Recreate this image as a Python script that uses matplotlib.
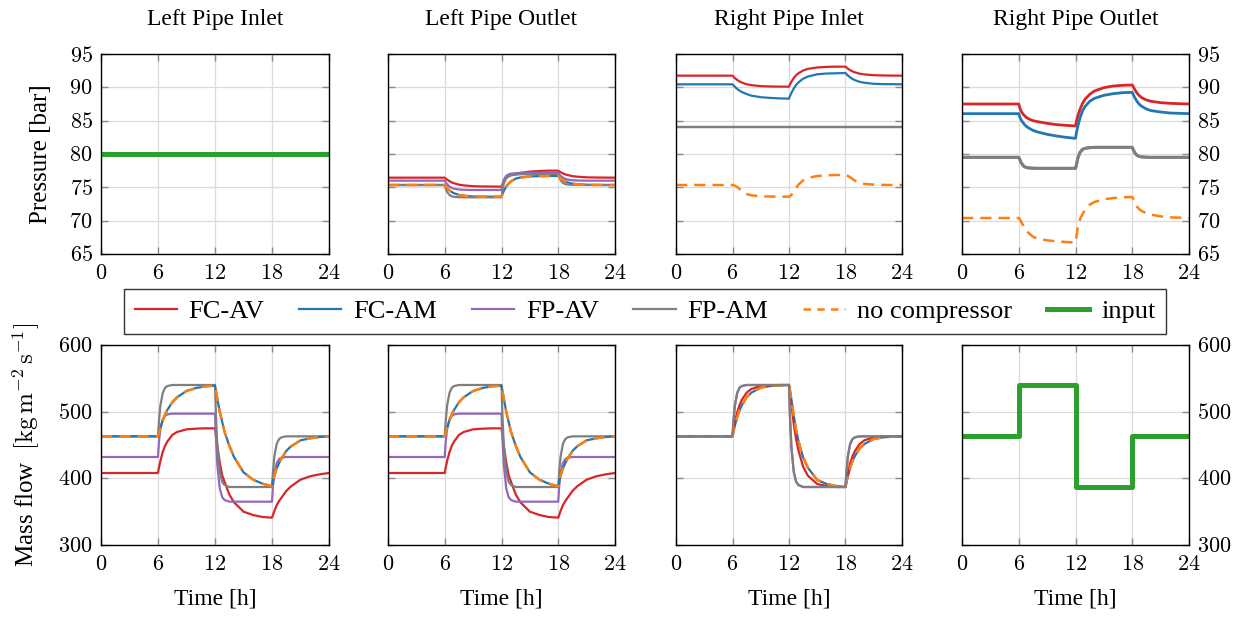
import matplotlib
matplotlib.use("Agg")
import matplotlib.pyplot as plt
from matplotlib.ticker import FuncFormatter
from matplotlib.lines import Line2D

plt.rcParams['font.family'] = ['Liberation Serif', 'DejaVu Serif']
plt.rcParams['mathtext.fontset'] = 'cm'

# ---------------- data ----------------
titles = ["Left Pipe Inlet", "Left Pipe Outlet", "Right Pipe Inlet", "Right Pipe Outlet"]
series_names = ["FC-AV", "FC-AM", "FP-AV", "FP-AM", "no compressor", "input"]
xticks = [0, 6, 12, 18, 24]
p_ticks = [65, 70, 75, 80, 85, 90, 95]
m_ticks = [300, 400, 500, 600]

# common time grid [h]
t = [0, 6, 6.1, 6.25, 6.5, 6.75, 7, 7.5, 8, 9, 10, 11,
     12, 12.1, 12.25, 12.5, 12.75, 13, 13.5, 14, 15, 16, 17,
     18, 18.1, 18.25, 18.5, 18.75, 19, 19.5, 20, 21, 22, 23, 24]

# input (boundary conditions)
t_flat = [0, 24]
p_input = [80, 80]
t_step = [0, 6, 6, 12, 12, 18, 18, 24]
m_input = [463, 463, 540, 540, 387, 387, 463, 463]

# ---- mass flow, left pipe inlet / outlet (identical in the picture) ----
m_left_fcav = [408, 408, 416, 426, 439.5, 449, 455.5, 465, 469.5, 473.5, 474.5, 475,
               475, 464, 448, 424, 405, 395, 376, 364, 350, 345, 342,
               341, 345, 351, 360, 366, 371, 381, 388, 398, 403, 406, 408]
m_left_fcam = [463, 463, 468, 476, 487, 496, 503, 514, 521.5, 531, 535.5, 538,
               539, 531, 519, 500, 485, 470, 449, 432, 409, 398, 392,
               388, 395.5, 404.5, 415, 423, 430, 441, 448, 457, 460, 462, 463]
m_left_fpav = [432, 432, 455, 474, 488.5, 494, 496, 497, 497, 497, 497, 497,
               497, 460, 420, 385, 372, 367.5, 365, 365, 365, 365, 365,
               365, 388, 408, 423, 429, 431, 432, 432, 432, 432, 432, 432]
m_left_fpam = [463, 463, 486, 509, 528, 536, 538.5, 540, 540, 540, 540, 540,
               540, 494, 448, 410, 395, 390, 387, 387, 387, 387, 387,
               387, 410, 433, 452, 459, 461.5, 463, 463, 463, 463, 463, 463]
m_left_nocomp = [463, 463, 468, 476, 487, 496, 503, 514, 521.5, 531, 535.5, 538,
                 539, 531, 519, 500, 485, 470, 449, 432, 409, 398, 392,
                 388, 395.5, 404.5, 415, 423, 430, 441, 448, 457, 460, 462, 463]

# ---- mass flow, right pipe inlet ----
m_rin_fcav = [463, 463, 472, 484, 499, 510, 518, 528.5, 534, 538.5, 539.5, 540,
              540, 529, 512.5, 482, 459, 442, 417.5, 404, 391.5, 388.5, 387,
              387, 396, 407.5, 423, 433.5, 441, 451.5, 457, 461.5, 462.5, 463, 463]
m_rin_fcam = [463, 463, 470, 479, 492, 502, 510, 521.5, 528.5, 536, 538.5, 539.5,
              540, 532, 518.5, 494, 473, 456, 431.5, 416, 397.5, 391.5, 388.5,
              387, 394, 403, 416, 426, 433.5, 445, 451.5, 459, 461.5, 462.5, 463]
m_rin_fpav = [463, 463, 486, 509, 528, 536, 538.5, 540, 540, 540, 540, 540,
              540, 494, 448, 410, 395, 390, 387, 387, 387, 387, 387,
              387, 410, 433, 452, 459, 461.5, 463, 463, 463, 463, 463, 463]
m_rin_fpam = [463, 463, 486, 509, 528, 536, 538.5, 540, 540, 540, 540, 540,
              540, 494, 448, 410, 395, 390, 387, 387, 387, 387, 387,
              387, 410, 433, 452, 459, 461.5, 463, 463, 463, 463, 463, 463]
m_rin_nocomp = [463, 463, 470, 479, 492, 502, 510, 521.5, 528.5, 536, 538.5, 539.5,
                540, 532, 518.5, 494, 473, 456, 431.5, 416, 397.5, 391.5, 388.5,
                387, 394, 403, 416, 426, 433.5, 445, 451.5, 459, 461.5, 462.5, 463]

# ---- pressure, left pipe outlet ----
p_lout_fcav = [76.45, 76.45, 76.31, 76.15, 75.92, 75.73, 75.6, 75.4, 75.29, 75.17, 75.13, 75.12,
               75.1, 75.46, 75.94, 76.42, 76.66, 76.83, 77.02, 77.16, 77.36, 77.45, 77.5,
               77.5, 77.4, 77.27, 77.09, 76.94, 76.84, 76.68, 76.6, 76.5, 76.47, 76.46, 76.45]
p_lout_fcam = [75.35, 75.35, 75.14, 74.88, 74.53, 74.28, 74.11, 73.86, 73.74, 73.63, 73.6, 73.6,
               73.6, 73.97, 74.47, 75.12, 75.55, 75.89, 76.3, 76.48, 76.64, 76.68, 76.7,
               76.7, 76.54, 76.34, 76.07, 75.88, 75.74, 75.55, 75.46, 75.38, 75.36, 75.35, 75.35]
p_lout_fpav = [76.0, 76.0, 75.75, 75.45, 75.12, 74.91, 74.8, 74.67, 74.63, 74.6, 74.6, 74.6,
               74.6, 75.38, 76.16, 76.73, 76.94, 77.04, 77.12, 77.17, 77.2, 77.2, 77.2,
               77.2, 76.98, 76.73, 76.44, 76.26, 76.17, 76.06, 76.02, 76.0, 76.0, 76.0, 76.0]
p_lout_fpam = [75.35, 75.35, 74.83, 74.3, 73.85, 73.65, 73.57, 73.52, 73.5, 73.5, 73.5, 73.5,
               73.5, 74.55, 75.6, 76.37, 76.65, 76.79, 76.9, 76.97, 77.0, 77.0, 77.0,
               77.0, 76.54, 76.06, 75.66, 75.48, 75.42, 75.37, 75.35, 75.35, 75.35, 75.35, 75.35]
p_lout_nocomp = [75.35, 75.35, 75.14, 74.88, 74.53, 74.28, 74.11, 73.86, 73.74, 73.63, 73.6, 73.6,
                 73.6, 73.97, 74.47, 75.12, 75.55, 75.89, 76.3, 76.48, 76.64, 76.68, 76.7,
                 76.7, 76.54, 76.34, 76.07, 75.88, 75.74, 75.55, 75.46, 75.38, 75.36, 75.35, 75.35]

# ---- pressure, right pipe inlet ----
p_rin_fcav = [91.75, 91.75, 91.59, 91.39, 91.11, 90.88, 90.71, 90.46, 90.33, 90.18, 90.13, 90.11,
              90.1, 90.43, 90.82, 91.39, 91.81, 92.11, 92.53, 92.77, 92.98, 93.07, 93.1,
              93.1, 92.97, 92.8, 92.57, 92.38, 92.25, 92.05, 91.94, 91.82, 91.78, 91.76, 91.75]
p_rin_fcam = [90.45, 90.45, 90.3, 90.08, 89.76, 89.5, 89.29, 88.99, 88.75, 88.52, 88.41, 88.34,
              88.3, 88.69, 89.15, 89.8, 90.34, 90.73, 91.3, 91.61, 91.96, 92.07, 92.11,
              92.15, 91.98, 91.78, 91.49, 91.25, 91.08, 90.82, 90.69, 90.53, 90.48, 90.47, 90.45]
p_rin_fpav = [84.0, 84.0]
p_rin_fpam = [84.0, 84.0]
p_rin_nocomp = [75.35, 75.35, 75.33, 75.25, 75.05, 74.75, 74.45, 74.0, 73.8, 73.65, 73.62, 73.6,
                73.6, 73.65, 73.85, 74.35, 74.9, 75.4, 76.05, 76.4, 76.7, 76.8, 76.85,
                76.85, 76.82, 76.72, 76.5, 76.25, 76.0, 75.7, 75.52, 75.4, 75.36, 75.35, 75.35]

# ---- pressure, right pipe outlet ----
p_rout_fcav = [87.5, 87.5, 87.0, 86.4, 85.9, 85.55, 85.3, 85.0, 84.85, 84.6, 84.4, 84.3,
               84.2, 84.9, 85.75, 86.8, 87.6, 88.2, 88.95, 89.45, 89.95, 90.2, 90.3,
               90.35, 90.1, 89.7, 89.15, 88.75, 88.45, 88.1, 87.9, 87.7, 87.6, 87.55, 87.5]
p_rout_fcam = [86.05, 86.05, 85.6, 85.1, 84.6, 84.2, 83.95, 83.55, 83.3, 82.95, 82.7, 82.5,
               82.35, 83.2, 84.2, 85.5, 86.5, 87.1, 87.9, 88.35, 88.8, 89.05, 89.2,
               89.25, 88.95, 88.5, 87.9, 87.45, 87.15, 86.75, 86.5, 86.3, 86.15, 86.1, 86.05]
p_rout_fpav = [79.5, 79.5, 79.2, 78.7, 78.2, 78.0, 77.92, 77.87, 77.85, 77.85, 77.85, 77.85,
               77.85, 78.4, 79.4, 80.3, 80.7, 80.85, 80.95, 81.0, 81.0, 81.0, 81.0,
               81.0, 80.7, 80.2, 79.8, 79.62, 79.56, 79.52, 79.5, 79.5, 79.5, 79.5, 79.5]
p_rout_fpam = [79.5, 79.5, 79.2, 78.7, 78.2, 78.0, 77.92, 77.87, 77.85, 77.85, 77.85, 77.85,
               77.85, 78.4, 79.4, 80.3, 80.7, 80.85, 80.95, 81.0, 81.0, 81.0, 81.0,
               81.0, 80.7, 80.2, 79.8, 79.62, 79.56, 79.52, 79.5, 79.5, 79.5, 79.5, 79.5]
p_rout_nocomp = [70.4, 70.4, 70.25, 69.85, 69.2, 68.6, 68.2, 67.6, 67.3, 67.05, 66.9, 66.8,
                 66.7, 67.6, 69.1, 70.3, 71.0, 71.6, 72.4, 72.8, 73.2, 73.4, 73.5,
                 73.55, 73.3, 72.8, 72.1, 71.7, 71.45, 71.1, 70.9, 70.65, 70.5, 70.45, 70.4]

# ---------------- style ----------------
C_RED, C_BLUE, C_PURPLE, C_GRAY = '#d62728', '#1f77b4', '#9467bd', '#7f7f7f'
C_ORANGE, C_GREEN = '#ff7f0e', '#2ca02c'
LW = 1.6

W, H = 1253, 617
fig = plt.figure(figsize=(W / 100, H / 100), dpi=100)

cols_px = [(101, 329), (388, 615), (676, 902), (962, 1189)]
rows_px = [(54, 254), (345, 545)]
axes = []
for r, (yt, yb) in enumerate(rows_px):
    row = []
    for c, (xl, xr) in enumerate(cols_px):
        ax = fig.add_axes([xl / W, 1 - yb / H, (xr - xl) / W, (yb - yt) / H])
        row.append(ax)
    axes.append(row)

fmt = FuncFormatter(lambda v, p: f"${v:g}$")


def style(ax, yticks, ylim, col):
    ax.set_xlim(0, 24)
    ax.set_ylim(*ylim)
    ax.set_xticks(xticks)
    ax.set_yticks(yticks)
    ax.xaxis.set_major_formatter(fmt)
    ax.yaxis.set_major_formatter(fmt)
    ax.grid(True, color='#dcdcdc', lw=0.9)
    ax.set_axisbelow(True)
    ax.tick_params(direction='in', length=5, width=1.0, color='#8a8a8a',
                   top=True, right=True, labelsize=16, pad=6)
    ax.tick_params(axis='x', pad=8)
    ax.tick_params(axis='y', labelleft=(col == 0), labelright=(col == 3))
    for s in ax.spines.values():
        s.set_linewidth(1.0)
        s.set_color('black')


def dashed(ax, x, y):
    ln, = ax.plot(x, y, color=C_ORANGE, lw=1.8)
    ln.set_dashes((4.5, 2.8))
    return ln


# top row: pressure
ax = axes[0][0]
ax.plot(t_flat, p_input, color=C_GREEN, lw=3.6)

ax = axes[0][1]
ax.plot(t, p_lout_fcav, color=C_RED, lw=LW)
ax.plot(t, p_lout_fpav, color=C_PURPLE, lw=LW)
ax.plot(t, p_lout_fcam, color=C_BLUE, lw=LW)
ax.plot(t, p_lout_fpam, color=C_GRAY, lw=LW)
dashed(ax, t, p_lout_nocomp)

ax = axes[0][2]
ax.plot(t, p_rin_fcav, color=C_RED, lw=LW)
ax.plot(t, p_rin_fcam, color=C_BLUE, lw=LW)
ax.plot(t_flat, p_rin_fpav, color=C_PURPLE, lw=LW)
ax.plot(t_flat, p_rin_fpam, color=C_GRAY, lw=LW)
dashed(ax, t, p_rin_nocomp)

ax = axes[0][3]
ax.plot(t, p_rout_fcav, color=C_RED, lw=2.0)
ax.plot(t, p_rout_fcam, color=C_BLUE, lw=2.0)
ax.plot(t, p_rout_fpav, color=C_PURPLE, lw=2.0)
ax.plot(t, p_rout_fpam, color=C_GRAY, lw=2.2)
dashed(ax, t, p_rout_nocomp)

# bottom row: mass flow
for ax in (axes[1][0], axes[1][1]):
    ax.plot(t, m_left_fcav, color=C_RED, lw=LW)
    ax.plot(t, m_left_fpav, color=C_PURPLE, lw=LW)
    ax.plot(t, m_left_fpam, color=C_GRAY, lw=LW)
    ax.plot(t, m_left_fcam, color=C_BLUE, lw=LW)
    dashed(ax, t, m_left_nocomp)

ax = axes[1][2]
ax.plot(t, m_rin_fpav, color=C_PURPLE, lw=LW)
ax.plot(t, m_rin_fcam, color=C_BLUE, lw=LW)
ax.plot(t, m_rin_fcav, color=C_RED, lw=LW)
dashed(ax, t, m_rin_nocomp)
ax.plot(t, m_rin_fpam, color=C_GRAY, lw=LW)

ax = axes[1][3]
ax.plot(t_step, m_input, color=C_GREEN, lw=3.6)

for c in range(4):
    style(axes[0][c], p_ticks, (65, 95), c)
    style(axes[1][c], m_ticks, (300, 600), c)
    axes[0][c].set_title(titles[c], fontsize=17, pad=21)
    axes[1][c].set_xlabel("Time [h]", fontsize=17, labelpad=10)

axes[0][0].set_ylabel("Pressure [bar]", fontsize=18)
axes[0][0].yaxis.set_label_coords(-0.215, 0.5)
axes[1][0].set_ylabel(r"Mass flow  $[\mathrm{kg\,m^{-2}\,s^{-1}}]$", fontsize=18)
axes[1][0].yaxis.set_label_coords(-0.26, 0.5)

# legend
handles = [Line2D([], [], color=C_RED, lw=LW),
           Line2D([], [], color=C_BLUE, lw=LW),
           Line2D([], [], color=C_PURPLE, lw=LW),
           Line2D([], [], color=C_GRAY, lw=LW),
           Line2D([], [], color=C_ORANGE, lw=1.8, dashes=(3, 2.5)),
           Line2D([], [], color=C_GREEN, lw=3.6)]
leg = fig.legend(handles, series_names, ncol=6, mode='expand',
                 bbox_to_anchor=(124 / W, 1 - 334 / H, 1042 / W, 43 / H),
                 loc='lower left', borderaxespad=0, fontsize=19,
                 handlelength=1.6, handletextpad=0.45, fancybox=False,
                 edgecolor='#333333', framealpha=1, borderpad=0.4)
leg.get_frame().set_linewidth(1.0)

fig.savefig("out.png", dpi=100)
